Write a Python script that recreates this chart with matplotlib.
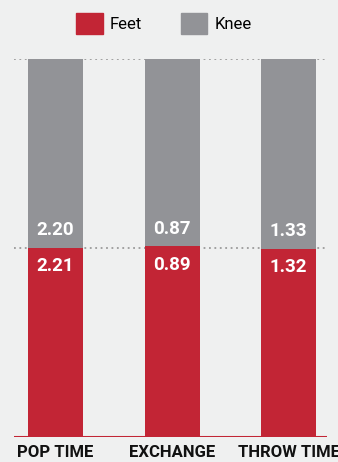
import matplotlib.pyplot as plt
from matplotlib.patches import Patch

# catcher times by stance
categorias = ["POP TIME", "EXCHANGE", "THROW TIME"]
feet = [2.21, 0.89, 1.32]
knee = [2.20, 0.87, 1.33]

vermelho = "#c22535"
cinza = "#929397"
fundo = "#eff0f0"

# share of each bar (100% stacked)
totais = [f + k for f, k in zip(feet, knee)]
feet_pct = [f / t for f, t in zip(feet, totais)]
knee_pct = [k / t for k, t in zip(knee, totais)]

fig = plt.figure(figsize=(3.38, 4.62), dpi=100, facecolor=fundo)
ax = fig.add_axes([14 / 338, 25 / 462, 313 / 338, 378 / 462])
ax.set_facecolor(fundo)

x = list(range(len(categorias)))
largura = 0.472
ax.bar(x, feet_pct, width=largura, color=vermelho, zorder=2)
ax.bar(x, knee_pct, width=largura, bottom=feet_pct, color=cinza, zorder=2)

# dotted guides at the top and the middle
for y in (0.5, 1.0):
    ax.axhline(y, color="#9a9a9a", linestyle=(0, (1, 2)), linewidth=1.3, zorder=1)
ax.axhline(0, color=vermelho, linewidth=2.2, zorder=3)

fonte = ["Roboto", "DejaVu Sans"]
rotulo = dict(color="white", fontsize=13.5, fontweight="bold", ha="center", family=fonte)
for xi, fp, f, k in zip(x, feet_pct, feet, knee):
    ax.annotate(f"{k:.2f}", (xi, fp), xytext=(0, 6), textcoords="offset points",
                va="bottom", **rotulo)
    ax.annotate(f"{f:.2f}", (xi, fp), xytext=(0, -7), textcoords="offset points",
                va="top", **rotulo)

for xi, nome in zip(x, categorias):
    ax.annotate(nome, (xi, 0), xytext=(0, -6), textcoords="offset points",
                ha="center", va="top", fontsize=12, fontweight="bold", color="#111111",
                family=fonte, annotation_clip=False)

ax.set_xlim(-0.356, 2.33)
ax.set_ylim(0, 1.0)
ax.axis("off")

handles = [Patch(color=vermelho, label="Feet"), Patch(color=cinza, label="Knee")]
fig.legend(handles=handles, loc="center", bbox_to_anchor=(0.485, 0.949), ncol=2,
           frameon=False, handlelength=1.6, handleheight=1.6,
           handletextpad=0.45, columnspacing=2.3,
           prop={"family": fonte, "size": 12})

fig.savefig("out.png", dpi=100, facecolor=fundo)
